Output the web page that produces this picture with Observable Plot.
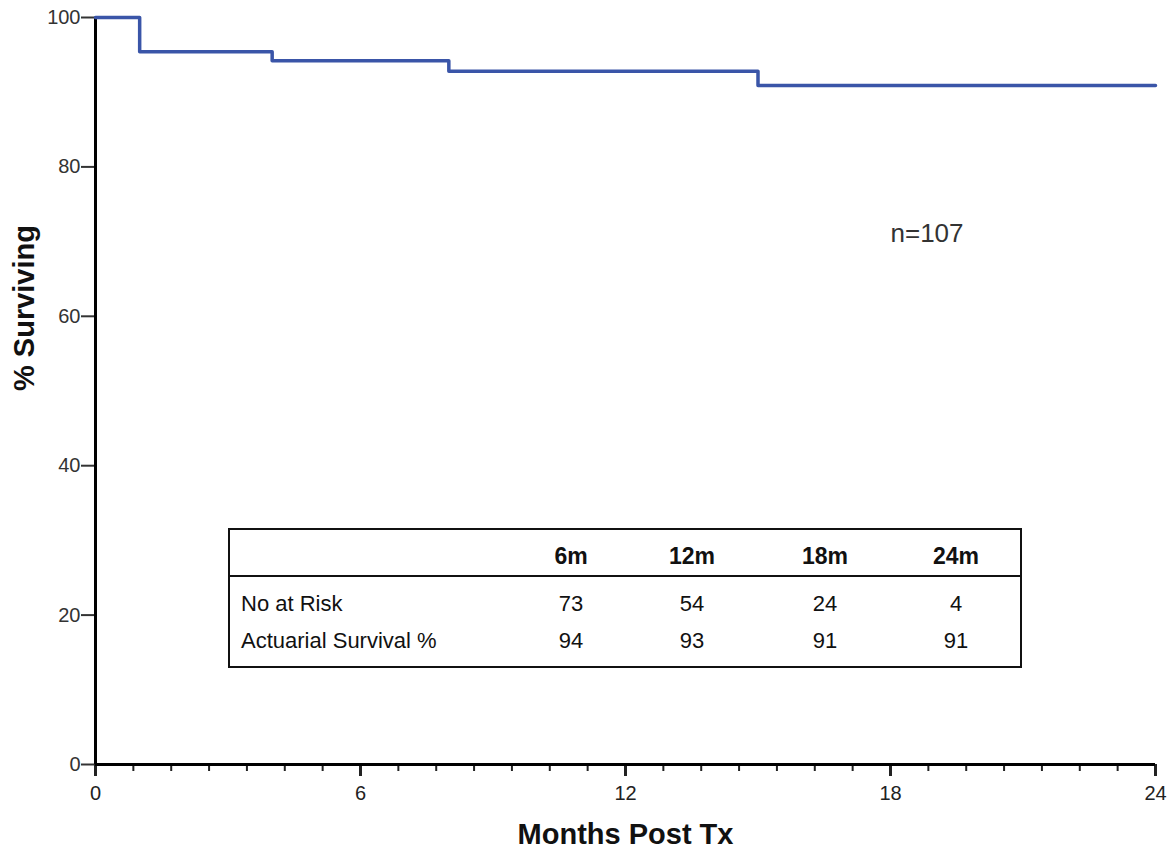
<!DOCTYPE html>
<html>
<head>
<meta charset="utf-8">
<script src="https://cdn.jsdelivr.net/npm/d3@7"></script>
<script src="https://cdn.jsdelivr.net/npm/@observablehq/plot@0.6"></script>
<style>
  body { margin: 0; background: #fff; font-family: "Liberation Sans", Arial, sans-serif; }
  #wrap { position: relative; width: 1174px; height: 852px; }
  #wrap svg { display: block; }
  #tbl { position: absolute; left: 228px; top: 528px; width: 794px; height: 140px; color: #111; }
  #tbl .box { position: absolute; left: 0; top: 0; right: 0; bottom: 0; box-sizing: border-box; border: 2px solid #111; }
  #tbl .div { position: absolute; left: 0; right: 0; top: 47px; height: 2px; background: #111; }
  #tbl span { position: absolute; line-height: 1; white-space: nowrap; font-size: 22px; }
  #tbl span.c { width: 120px; text-align: center; }
  #tbl span.h { font-weight: bold; font-size: 23px; }
</style>
</head>
<body>
<div id="wrap"></div>
<script>
// ---- data ----
const months   = [0, 1, 4, 8, 15, 24];
const survival = [100, 95.4, 94.2, 92.8, 90.9, 90.9];
const xTicks = [0, 6, 12, 18, 24];
const yTicks = [0, 20, 40, 60, 80, 100];
const minorPerMajor = 7;
const xTitle = "Months Post Tx";
const yTitle = "% Surviving";
const sampleLabel = "n=107";
const tableCols = ["6m", "12m", "18m", "24m"];
const rowLabels = ["No at Risk", "Actuarial Survival %"];
const atRisk = [73, 54, 24, 4];
const actuarial = [94, 93, 91, 91];

const curve = months.map((m, i) => ({m, s: survival[i]}));
const minorTicks = d3.range(0, xTicks.length - 1).flatMap(k =>
  d3.range(1, minorPerMajor).map(j => xTicks[k] + (xTicks[k + 1] - xTicks[k]) * j / minorPerMajor));

const chart = Plot.plot({
  width: 1174,
  height: 852,
  marginLeft: 95,
  marginRight: 19,
  marginTop: 17,
  marginBottom: 88,
  x: {domain: [0, 24]},
  y: {domain: [0, 100]},
  style: {fontFamily: "Liberation Sans, Arial, sans-serif", background: "white", overflow: "visible", color: "#222"},
  marks: [
    Plot.axisY({ticks: yTicks, tickSize: 14, tickPadding: 1, fontSize: 20, label: null, strokeWidth: 2, color: "#333"}),
    Plot.axisX({ticks: minorTicks, tickSize: 7, tickPadding: 0, strokeWidth: 2, tickFormat: () => "", label: null, color: "#222"}),
    Plot.axisX({ticks: xTicks, tickSize: 12, tickPadding: 9, strokeWidth: 3, fontSize: 20, label: null, color: "#222"}),
    Plot.ruleY([0], {stroke: "#000", strokeWidth: 3}),
    Plot.ruleX([0], {stroke: "#000", strokeWidth: 3}),
    Plot.line(curve, {x: "m", y: "s", curve: "step-after", stroke: "#3a55a8", strokeWidth: 3.5}),
    Plot.text([sampleLabel], {x: 18, y: 70, text: d => d, textAnchor: "start", lineAnchor: "bottom", fontSize: 26, fill: "#333"}),
    Plot.text([yTitle], {frameAnchor: "left", dx: -62, rotate: -90, text: d => d, lineAnchor: "bottom", fontSize: 29, fontWeight: "bold", fill: "#111"}),
    Plot.text([xTitle], {frameAnchor: "bottom", dy: 79, text: d => d, lineAnchor: "bottom", fontSize: 29, fontWeight: "bold", fill: "#111"})
  ]
});

const wrap = document.getElementById("wrap");
wrap.appendChild(chart);

// ---- summary table overlay ----
const tbl = document.createElement("div");
tbl.id = "tbl";
tbl.innerHTML = '<div class="box"></div><div class="div"></div>';
const colCenters = [343, 464, 597, 728];
const rowTops = [65.4, 102];
function addSpan(text, cls, left, top) {
  const s = document.createElement("span");
  s.className = cls;
  s.textContent = text;
  s.style.left = left + "px";
  s.style.top = top + "px";
  tbl.appendChild(s);
}
tableCols.forEach((c, i) => addSpan(c, "c h", colCenters[i] - 60, 16.5));
rowLabels.forEach((r, i) => addSpan(r, "", 13, rowTops[i]));
atRisk.forEach((v, i) => addSpan(String(v), "c", colCenters[i] - 60, rowTops[0]));
actuarial.forEach((v, i) => addSpan(String(v), "c", colCenters[i] - 60, rowTops[1]));
wrap.appendChild(tbl);
</script>
</body>
</html>
